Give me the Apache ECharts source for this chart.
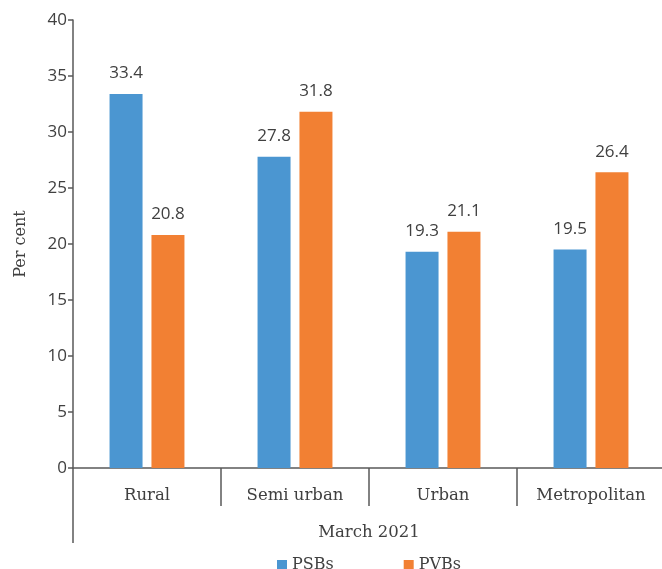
<!DOCTYPE html>
<html>
<head>
<meta charset="utf-8">
<script src="https://cdn.jsdelivr.net/npm/echarts@6/dist/echarts.min.js"></script>
<style>
  html, body { margin: 0; padding: 0; background: #fff; overflow: hidden; }
  /* canvas is a little wider than the window so the outer end of the axis runs off the right edge */
  #chart { width: 672px; height: 569px; }
</style>
</head>
<body>
<div id="chart"></div>
<script>
// Share of branches by population group, March 2021
const categories = ['Rural', 'Semi urban', 'Urban', 'Metropolitan'];
const psbValues = [33.4, 27.8, 19.3, 19.5];
const pvbValues = [20.8, 31.8, 21.1, 26.4];
const periodLabel = ['March 2021'];
const seriesNames = ['PSBs', 'PVBs'];

const axisColor = '#595959';
const textColor = '#404040';
const serif = '"DejaVu Serif", serif';
const sans = '"Open Sans", sans-serif';

const chart = echarts.init(document.getElementById('chart'));

const valueLabel = {
  show: true,
  position: 'top',
  distance: 12,
  color: textColor,
  fontFamily: sans,
  fontSize: 17
};

chart.setOption({
  animation: false,
  grid: { left: 73, top: 20, width: 592, height: 448, containLabel: false },
  legend: {
    top: 552,
    left: 272,
    itemWidth: 10,
    itemHeight: 10,
    itemGap: 70,
    icon: 'rect',
    textStyle: { fontFamily: serif, fontSize: 16, color: textColor },
    data: seriesNames
  },
  xAxis: [
    {
      type: 'category',
      data: categories,
      position: 'bottom',
      axisLine: { lineStyle: { color: axisColor, width: 1.5 } },
      axisTick: { show: true, length: 38, lineStyle: { color: axisColor, width: 1.5 } },
      axisLabel: { fontFamily: serif, fontSize: 16.5, color: textColor, margin: 19 }
    },
    {
      type: 'category',
      data: periodLabel,
      position: 'bottom',
      offset: 38,
      axisLine: { show: false },
      axisTick: { show: true, length: 37, lineStyle: { color: axisColor, width: 1.5 } },
      axisLabel: { fontFamily: serif, fontSize: 16.5, color: textColor, margin: 18 }
    }
  ],
  yAxis: {
    type: 'value',
    min: 0,
    max: 40,
    interval: 5,
    name: 'Per cent',
    nameLocation: 'middle',
    nameGap: 44,
    nameTextStyle: { fontFamily: serif, fontSize: 16, color: textColor },
    axisLine: { show: true, lineStyle: { color: axisColor, width: 1.5 } },
    axisTick: { show: true, length: 5, lineStyle: { color: axisColor, width: 1.5 } },
    axisLabel: { fontFamily: sans, fontSize: 17, color: textColor, margin: 6 },
    splitLine: { show: false }
  },
  series: [
    {
      name: seriesNames[0],
      type: 'bar',
      xAxisIndex: 0,
      data: psbValues,
      barWidth: 33,
      barGap: '27%',
      itemStyle: { color: '#4B96D1' },
      label: valueLabel
    },
    {
      name: seriesNames[1],
      type: 'bar',
      xAxisIndex: 0,
      data: pvbValues,
      barWidth: 33,
      barGap: '27%',
      itemStyle: { color: '#F28033' },
      label: valueLabel
    }
  ]
});
</script>
</body>
</html>
